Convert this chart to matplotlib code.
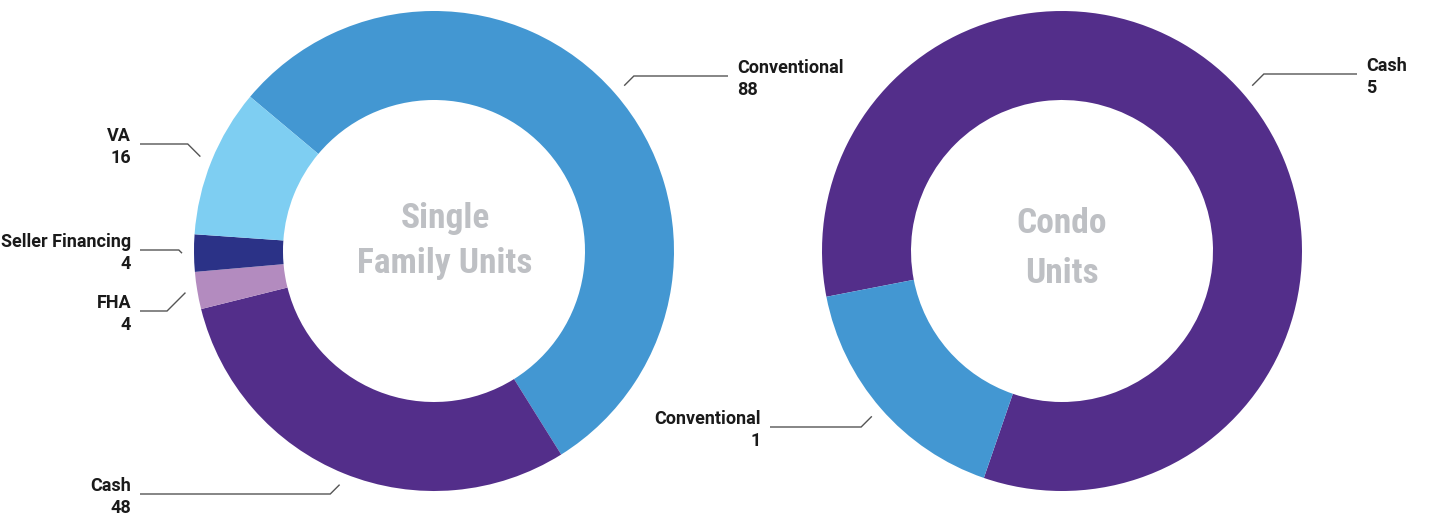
import matplotlib
matplotlib.use('Agg')
import matplotlib.pyplot as plt
import numpy as np
import os
from matplotlib import font_manager as fm

# ---------------- data ----------------
sf_labels = ['Conventional', 'Cash', 'FHA', 'Seller Financing', 'VA']
sf_values = [88, 48, 4, 4, 16]
condo_labels = ['Cash', 'Conventional']
condo_values = [5, 1]

# ---------------- style / layout ----------------
color_map = {
    'Conventional': '#4397D2',
    'Cash': '#532E8A',
    'FHA': '#B38BBF',
    'Seller Financing': '#2B3287',
    'VA': '#7ECEF2',
}
W, H = 1442, 517
fig = plt.figure(figsize=(W / 100, H / 100), dpi=100)
ax = fig.add_axes([0, 0, 1, 1])

names = {f.name for f in fm.fontManager.ttflist}
label_family = 'Roboto' if 'Roboto' in names else 'DejaVu Sans'

# find a condensed bold font for the centre titles
fnames = {os.path.basename(f.fname).lower(): f.fname for f in fm.fontManager.ttflist}
prefs = ['notosans-extracondensedbold', 'notosans-extracondensedsemibold',
         'robotocondensed-bold', 'notosans-condensedbold',
         'opensans-condensedbold', 'liberationsansnarrow-bold',
         'dejavusanscondensed-bold']
center_prop = None
for p in prefs:
    for k, v in fnames.items():
        if k.startswith(p + '.'):
            center_prop = fm.FontProperties(fname=v, size=25.5)
            break
    if center_prop is not None:
        break
if center_prop is None:
    cands = [f for f in fm.fontManager.ttflist
             if ('condensed' in f.fname.lower() or 'narrow' in f.fname.lower())
             and 'bold' in f.fname.lower() and 'italic' not in f.fname.lower()]
    if cands:
        center_prop = fm.FontProperties(fname=cands[0].fname, size=25.5)
    else:
        center_prop = fm.FontProperties(family='Roboto', weight='bold', size=25.5)

charts = [
    dict(labels=sf_labels, values=sf_values, center=(434, 251), start=140,
         label_y=[76, 494, 311, 250, 144], end_left=140, end_right=728,
         title=['Single', 'Family Units'], title_x=445, title_base=[228, 273]),
    dict(labels=condo_labels, values=condo_values, center=(1062, 251), start=191,
         label_y=[74, 427], end_left=770, end_right=1357,
         title=['Condo', 'Units'], title_x=1062, title_base=[233, 283]),
]

R_OUT, WIDTH, R_ANCHOR = 240, 89, 252

for ch in charts:
    cx, cy_px = ch['center']
    cy = H - cy_px
    wedges, _ = ax.pie(ch['values'], colors=[color_map[l] for l in ch['labels']],
                       startangle=ch['start'], counterclock=False,
                       center=(cx, cy), radius=R_OUT,
                       wedgeprops=dict(width=WIDTH, edgecolor='none', linewidth=0))
    for w, lab, val, ly_px in zip(wedges, ch['labels'], ch['values'], ch['label_y']):
        mid = np.deg2rad((w.theta1 + w.theta2) / 2)
        axp = cx + R_ANCHOR * np.cos(mid)
        ayp = cy + R_ANCHOR * np.sin(mid)
        ly = H - ly_px
        side = 1 if np.cos(mid) > 0 else -1
        ex = axp + side * abs(ly - ayp)
        endx = ch['end_right'] if side > 0 else ch['end_left']
        ax.plot([axp, ex, endx], [ayp, ly, ly], color='#555555', lw=1.0,
                solid_capstyle='butt', solid_joinstyle='miter')
        tx = endx + side * 9
        ha = 'left' if side > 0 else 'right'
        ax.text(tx, ly + 3, lab, ha=ha, va='baseline', fontsize=13,
                fontweight='bold', family=label_family, color='#1a1a1a')
        ax.text(tx, ly - 19, str(val), ha=ha, va='baseline', fontsize=13,
                fontweight='bold', family=label_family, color='#1a1a1a')
    for line, base in zip(ch['title'], ch['title_base']):
        ax.text(ch['title_x'], H - base, line, ha='center', va='baseline',
                fontproperties=center_prop, color='#BEC0C4')

ax.set_xlim(0, W)
ax.set_ylim(0, H)
ax.set_aspect('auto')
ax.axis('off')
fig.savefig('out.png', dpi=100, facecolor='white')
